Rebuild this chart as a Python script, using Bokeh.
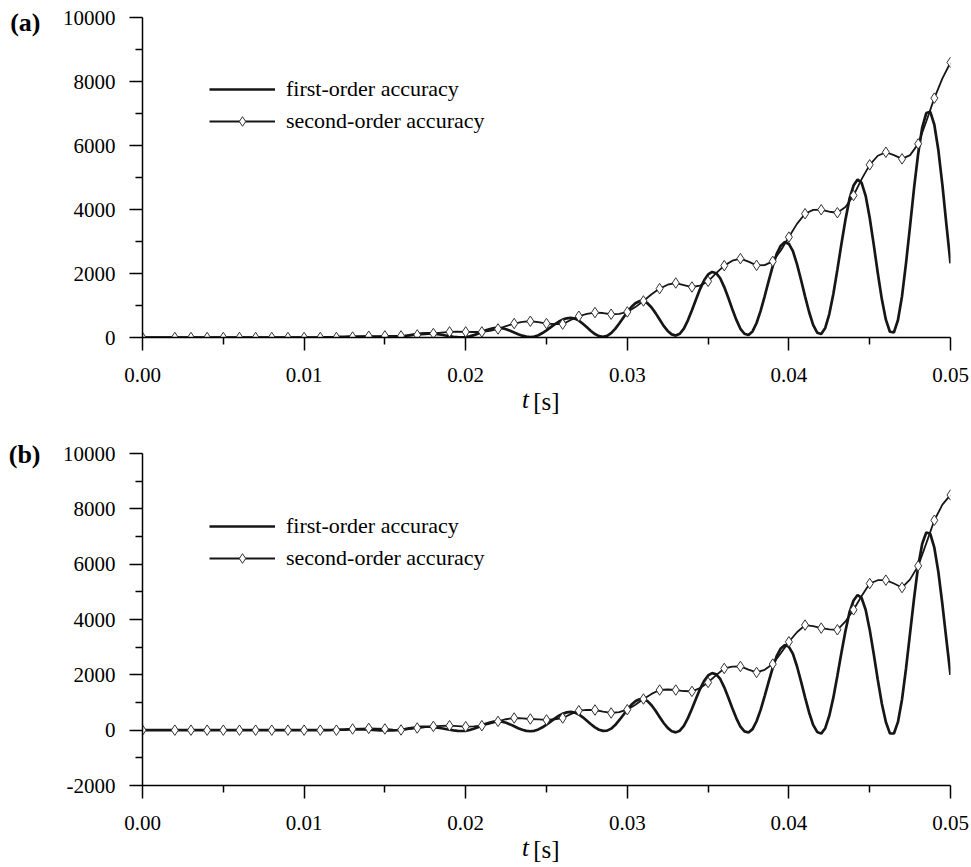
from bokeh.plotting import figure
from bokeh.models import (Range1d, FixedTicker, PrintfTickFormatter, Legend, LegendItem,
                          LinearAxis)
from bokeh.layouts import column
from bokeh.embed import file_html
from bokeh.resources import INLINE

# ---------------- data ----------------
# first-order accuracy, sampled every 0.25 ms from 0 to 50 ms
FIRST_STEP_MS = 0.25
FIRST_A = [
    0, 0, 0, 0, 0, 0, 0, 0, 0, 0, 0, 0, 0, 0, 0, 0, 0, 0, 0, 0,
    0, 0, 0, 0, 0, 0, 0, 0, 0, 0, 0, 0, 0, 0, 0, 0, 0, 0, 0, 0,
    0, 0, 0, 0, 0, 1, 4, 8, 13, 18, 23, 27, 29, 30, 28, 25, 20, 15, 10, 5,
    2, 0, 2, 12, 27, 47, 69, 91, 109, 123, 129, 129, 120, 105, 85, 63, 41, 23, 10, 5,
    11, 35, 73, 121, 173, 223, 265, 291, 300, 289, 258, 212, 157, 103, 57, 26, 15, 30, 72, 139,
    222, 315, 408, 491, 558, 600, 615, 592, 528, 431, 318, 204, 107, 43, 20, 49, 136, 270, 436, 620,
    797, 954, 1070, 1134, 1139, 1072, 939, 762, 562, 364, 206, 97, 60, 118, 279, 538, 852, 1190, 1513, 1779,
    1970, 2048, 2009, 1852, 1576, 1240, 885, 549, 272, 117, 78, 191, 453, 832, 1288, 1772, 2228, 2621, 2869, 2982,
    2925, 2697, 2294, 1804, 1286, 796, 393, 150, 110, 298, 734, 1362, 2121, 2924, 3683, 4336, 4747, 4935, 4835, 4427,
    3741, 2902, 2015, 1200, 557, 180, 160, 548, 1291, 2333, 3499, 4694, 5750, 6562, 7014, 7053, 6649, 5850, 4761, 3514,
    2320,
]
FIRST_B = [
    0, 0, 0, 0, 0, 0, 0, 0, 0, 0, 0, 0, 0, 0, 0, 0, 0, 0, 0, 0,
    0, 0, 0, 0, 0, 0, 0, 0, 0, 0, 0, 0, 0, 0, 0, 0, 0, 0, 0, 0,
    0, 0, 0, 0, 0, 1, 4, 8, 13, 18, 23, 27, 29, 30, 28, 24, 17, 10, 3, -4,
    -8, -10, -8, 2, 18, 39, 62, 85, 104, 117, 124, 123, 113, 94, 69, 42, 15, -7, -23, -30,
    -23, 5, 51, 108, 170, 229, 278, 310, 320, 306, 267, 209, 140, 71, 13, -26, -40, -23, 27, 104,
    202, 310, 419, 516, 594, 643, 660, 637, 568, 465, 341, 214, 101, 16, -26, -18, 55, 185, 360, 550,
    745, 915, 1048, 1118, 1123, 1049, 900, 703, 480, 259, 83, -39, -80, -18, 156, 435, 774, 1138, 1486, 1773,
    1979, 2063, 2020, 1850, 1548, 1181, 794, 427, 126, -45, -87, 37, 322, 734, 1232, 1758, 2256, 2684, 2953, 3077,
    3013, 2759, 2310, 1764, 1186, 640, 191, -63, -125, 71, 523, 1175, 1963, 2797, 3585, 4263, 4689, 4885, 4779, 4352,
    3633, 2752, 1822, 967, 293, -115, -120, 299, 1112, 2239, 3520, 4786, 5936, 6741, 7143, 7099, 6594, 5714, 4541, 3251,
    2000,
]

# second-order accuracy, sampled every 0.5 ms from 0 to 50 ms
SECOND_STEP_MS = 0.5
SECOND_A = [
    0, 0, 0, 0, 0, 0, 0, 0, 0, 0,
    0, 0, 0, 0, 0, 0, 0, 0, 0, 0,
    0, 0, 0, 0, 0, 5, 15, 28, 40, 46,
    50, 50, 50, 63, 81, 102, 125, 152, 175, 180,
    175, 172, 175, 210, 268, 355, 437, 490, 508, 478,
    437, 420, 418, 545, 664, 740, 780, 765, 727, 740,
    799, 950, 1142, 1350, 1528, 1650, 1703, 1640, 1578, 1620,
    1756, 2010, 2246, 2400, 2464, 2370, 2255, 2260, 2380, 2720,
    3138, 3550, 3868, 3990, 3992, 3930, 3899, 4080, 4438, 4950,
    5396, 5680, 5789, 5700, 5583, 5700, 6051, 6750, 7480, 8100,
    8596,
]
SECOND_B = [
    0, 0, 0, 0, 0, 0, 0, 0, 0, 0,
    0, 0, 0, 0, 0, 0, 0, 0, 0, 0,
    0, 0, 0, 0, 0, 15, 43, 58, 65, 55,
    43, 20, 7, 35, 79, 110, 137, 155, 162, 145,
    126, 135, 162, 235, 318, 395, 440, 428, 404, 388,
    370, 395, 440, 580, 704, 730, 729, 670, 621, 650,
    740, 920, 1126, 1310, 1451, 1470, 1451, 1415, 1401, 1520,
    1726, 1990, 2231, 2300, 2303, 2190, 2087, 2180, 2390, 2780,
    3195, 3540, 3798, 3760, 3689, 3640, 3628, 3930, 4350, 4850,
    5300, 5420, 5422, 5300, 5155, 5450, 5938, 6750, 7588, 8150,
    8502,
]

# times (ms) at which the second-order curve carries a diamond marker
MARKER_MS = [0] + list(range(2, 51))

X_MAJOR = [0.0, 0.01, 0.02, 0.03, 0.04, 0.05]
X_MINOR = [0.005, 0.015, 0.025, 0.035, 0.045]
Y_MAJOR_A = [0, 2000, 4000, 6000, 8000, 10000]
Y_MINOR_A = [1000, 3000, 5000, 7000, 9000]
Y_MAJOR_B = [-2000, 0, 2000, 4000, 6000, 8000, 10000]
Y_MINOR_B = [-1000, 1000, 3000, 5000, 7000, 9000]

LEGEND_FIRST = "first-order accuracy"
LEGEND_SECOND = "second-order accuracy"
X_TITLE_VAR = "t"      # italic part of the x-axis title
X_TITLE_UNIT = "[s]"   # upright part of the x-axis title

FONT = "Liberation Serif"
INK = "#161616"
X_LO, X_HI = 0.0, 0.05
X_TITLE_VAR_AT = 0.0237   # where the italic "t" sits along the time axis


def make_panel(first, second, y_lo, y_hi, y_major, y_minor, fig_h, top, bottom,
               legend_xy, tag, tag_dy):
    t1 = [i * FIRST_STEP_MS / 1000.0 for i in range(len(first))]
    t2 = [i * SECOND_STEP_MS / 1000.0 for i in range(len(second))]
    tm = [m / 1000.0 for m in MARKER_MS]
    vm = [second[int(round(m / SECOND_STEP_MS))] for m in MARKER_MS]

    frame_h = fig_h - top - bottom
    p = figure(width=971, height=fig_h, output_backend="svg", toolbar_location=None,
               x_range=Range1d(X_LO, X_HI), y_range=Range1d(y_lo, y_hi),
               min_border_left=142, min_border_right=21,
               min_border_top=top, min_border_bottom=bottom,
               background_fill_color="white", border_fill_color="white",
               outline_line_color=None)
    p.xgrid.visible = False
    p.ygrid.visible = False

    r2 = p.line(t2, second, line_color=INK, line_width=1.8)
    r1 = p.line(t1, first, line_color=INK, line_width=2.7)
    rm = p.scatter(tm, vm, marker="diamond", size=10.5,
                   fill_color="white", line_color="#333333", line_width=1)

    for ax in (p.xaxis[0], p.yaxis[0]):
        ax.axis_line_color = "black"
        ax.axis_line_width = 1.5
        ax.major_tick_line_color = "black"
        ax.major_tick_line_width = 1.5
        ax.minor_tick_line_color = "black"
        ax.minor_tick_line_width = 1.5
        ax.major_tick_in = 0
        ax.minor_tick_in = 0
        ax.major_tick_out = 13
        ax.minor_tick_out = 7
        ax.major_label_text_font = FONT
        ax.major_label_text_font_size = "21px"
        ax.major_label_text_color = "black"

    xa = p.xaxis[0]
    xa.ticker = FixedTicker(ticks=X_MAJOR, minor_ticks=X_MINOR)
    xa.formatter = PrintfTickFormatter(format="%.2f")
    xa.major_label_standoff = 17

    ya = p.yaxis[0]
    ya.ticker = FixedTicker(ticks=y_major, minor_ticks=y_minor)
    ya.formatter = PrintfTickFormatter(format="%d")
    ya.major_label_standoff = 14

    # x-axis title: italic "t" as the only label of an extra, line-less axis,
    # upright "[s]" as that axis' label pulled up onto the same line
    title_axis = LinearAxis(ticker=FixedTicker(ticks=[X_TITLE_VAR_AT], minor_ticks=[]),
                            major_label_overrides={X_TITLE_VAR_AT: X_TITLE_VAR},
                            axis_line_color=None, major_tick_line_color=None,
                            minor_tick_line_color=None, major_tick_out=0, major_tick_in=0,
                            minor_tick_out=0, minor_tick_in=0,
                            major_label_standoff=1, major_label_text_font=FONT,
                            major_label_text_font_style="italic",
                            major_label_text_font_size="25px",
                            major_label_text_color="black",
                            axis_label=X_TITLE_UNIT, axis_label_text_font=FONT,
                            axis_label_text_font_style="normal",
                            axis_label_text_font_size="25px",
                            axis_label_text_color="black",
                            axis_label_standoff=-28)
    p.add_layout(title_axis, "below")

    # panel tag "(a)" / "(b)" drawn as the only label of an extra, line-less left axis
    y_tag = int(round(y_hi - tag_dy * (y_hi - y_lo) / frame_h))
    tag_axis = LinearAxis(ticker=FixedTicker(ticks=[y_tag], minor_ticks=[]),
                          major_label_overrides={y_tag: tag},
                          axis_line_color=None, major_tick_line_color=None,
                          minor_tick_line_color=None, major_tick_out=0, major_tick_in=0,
                          minor_tick_out=0, minor_tick_in=0,
                          major_label_standoff=19, major_label_text_font=FONT,
                          major_label_text_font_style="bold",
                          major_label_text_font_size="26px",
                          major_label_text_color="black")
    p.add_layout(tag_axis, "left")

    legend = Legend(items=[LegendItem(label=LEGEND_FIRST, renderers=[r1]),
                           LegendItem(label=LEGEND_SECOND, renderers=[r2, rm])],
                    location=legend_xy, orientation="vertical",
                    padding=0, margin=0, spacing=6,
                    glyph_width=66, glyph_height=24, label_height=24,
                    label_standoff=11, label_text_font=FONT,
                    label_text_font_size="22px", label_text_color="black",
                    border_line_color=None, background_fill_alpha=0)
    p.add_layout(legend)
    return p


pa = make_panel(FIRST_A, SECOND_A, 0, 10000, Y_MAJOR_A, Y_MINOR_A,
                430, 17, 93, (67, 203), "(a)", 5)
pb = make_panel(FIRST_B, SECOND_B, -2000, 10000, Y_MAJOR_B, Y_MINOR_B,
                437, 23, 82, (67, 214), "(b)", 1)

layout = column(pa, pb, spacing=0)
open("out.html", "w").write(file_html(layout, INLINE))
